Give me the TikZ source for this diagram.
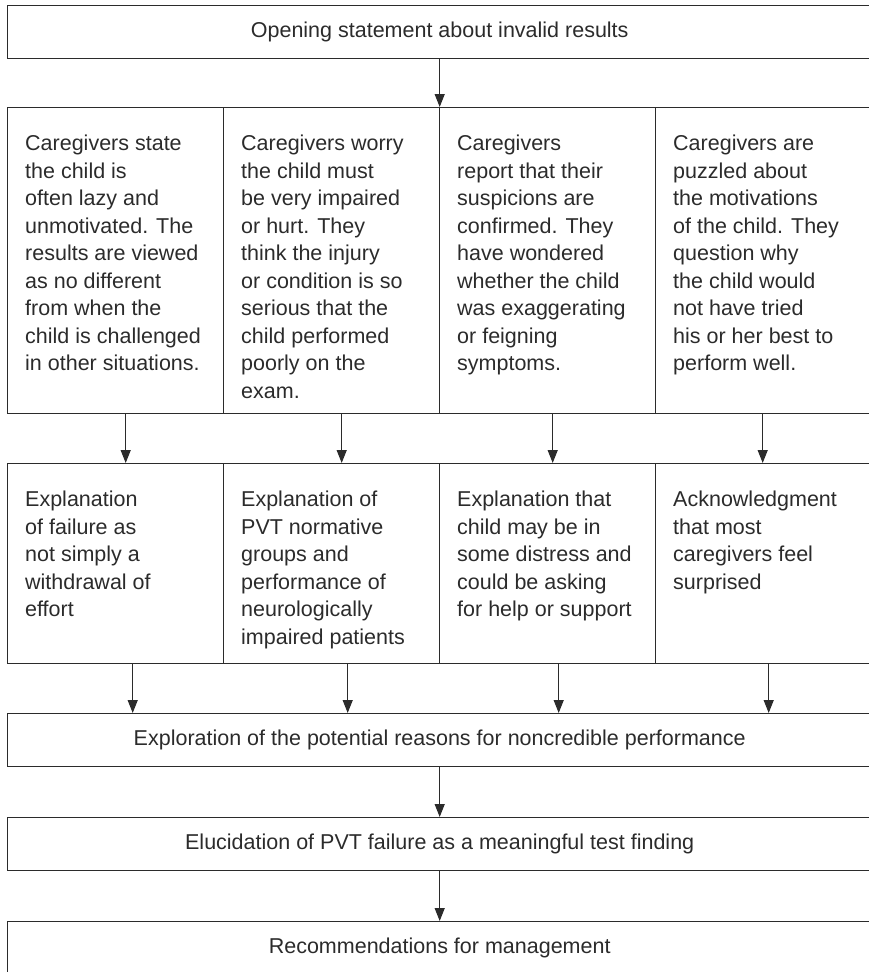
\documentclass[tikz,border=0pt]{standalone}
\usepackage{fontspec}
\setmainfont{Liberation Sans}
\usetikzlibrary{positioning,arrows.meta}
\definecolor{ink}{HTML}{2B2B2B}
\tikzset{
frame/.style={draw=ink, line width=1.4pt, inner sep=0pt, anchor=north west},
bar/.style={frame, minimum width=864pt, minimum height=53pt,
    text=ink, font=\fontsize{21.5}{27.5}\selectfont},
cell/.style={frame, minimum width=216pt},
celltxt/.style={align=left, inner sep=0pt, text=ink,
    font=\fontsize{21.5}{27.5}\selectfont},
flow/.style={->, draw=ink, line width=1.2pt}
}

\begin{document}
\begin{tikzpicture}[x=1pt,y=-1pt,>={Triangle[length=13pt,width=10pt]}]
\useasboundingbox (0,0) rectangle (868,972);

\node[bar] (open) at (7,5) {Opening statement about invalid results};

\node[cell, minimum height=306pt] (care1) at (7,107) {};
\node[cell, minimum height=306pt] (care2) at (223,107) {};
\node[cell, minimum height=306pt] (care3) at (439,107) {};
\node[cell, minimum height=306pt] (care4) at (655,107) {};

\node[celltxt, below right=28pt and 18pt of care1.north west] (care1txt)
  {Caregivers state\\the child is\\often lazy and\\unmotivated. The\\results are viewed\\as no different\\from when the\\child is challenged\\in other situations.};
\node[celltxt, below right=28pt and 18pt of care2.north west] (care2txt)
  {Caregivers worry\\the child must\\be very impaired\\or hurt. They\\think the injury\\or condition is so\\serious that the\\child performed\\poorly on the\\exam.};
\node[celltxt, below right=28pt and 18pt of care3.north west] (care3txt)
  {Caregivers\\report that their\\suspicions are\\confirmed. They\\have wondered\\whether the child\\was exaggerating\\or feigning\\symptoms.};
\node[celltxt, below right=28pt and 18pt of care4.north west] (care4txt)
  {Caregivers are\\puzzled about\\the motivations\\of the child. They\\question why\\the child would\\not have tried\\his or her best to\\perform well.};

\node[cell, minimum height=200pt] (expl1) at (7,463) {};
\node[cell, minimum height=200pt] (expl2) at (223,463) {};
\node[cell, minimum height=200pt] (expl3) at (439,463) {};
\node[cell, minimum height=200pt] (expl4) at (655,463) {};

\node[celltxt, below right=28pt and 18pt of expl1.north west] (expl1txt)
  {Explanation\\of failure as\\not simply a\\withdrawal of\\effort};
\node[celltxt, below right=28pt and 18pt of expl2.north west] (expl2txt)
  {Explanation of\\PVT normative\\groups and\\performance of\\neurologically\\impaired patients};
\node[celltxt, below right=28pt and 18pt of expl3.north west] (expl3txt)
  {Explanation that\\child may be in\\some distress and\\could be asking\\for help or support};
\node[celltxt, below right=28pt and 18pt of expl4.north west] (expl4txt)
  {Acknowledgment\\that most\\caregivers feel\\surprised};

\node[bar] (explore) at (7,713) {Exploration of the potential reasons for noncredible performance};
\node[bar] (eluc) at (7,817) {Elucidation of PVT failure as a meaningful test finding};
\node[bar] (recs) at (7,921) {Recommendations for management};

\draw[flow] (open.south) -- (open.south |- care1.north);

\draw[flow] ([xshift=10pt]care1.south) -- ([xshift=10pt]care1.south |- expl1.north);
\draw[flow] ([xshift=10pt]care2.south) -- ([xshift=10pt]care2.south |- expl2.north);
\draw[flow] ([xshift=5pt]care3.south) -- ([xshift=5pt]care3.south |- expl3.north);
\draw[flow] ([xshift=-1pt]care4.south) -- ([xshift=-1pt]care4.south |- expl4.north);

\draw[flow] ([xshift=17pt]expl1.south) -- ([xshift=17pt]expl1.south |- explore.north);
\draw[flow] ([xshift=16pt]expl2.south) -- ([xshift=16pt]expl2.south |- explore.north);
\draw[flow] ([xshift=11pt]expl3.south) -- ([xshift=11pt]expl3.south |- explore.north);
\draw[flow] ([xshift=5pt]expl4.south) -- ([xshift=5pt]expl4.south |- explore.north);

\draw[flow] (explore.south) -- (eluc.north);
\draw[flow] (eluc.south) -- (recs.north);
\end{tikzpicture}
\end{document}
